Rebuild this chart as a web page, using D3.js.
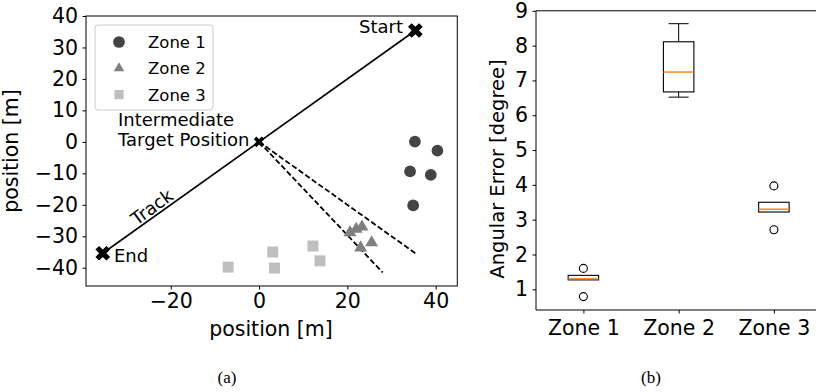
<!DOCTYPE html>
<html>
<head>
<meta charset="utf-8">
<script src="https://cdn.jsdelivr.net/npm/d3@7"></script>
<style>
  body { margin: 0; background: #fff; }
  text { font-family: "DejaVu Sans", sans-serif; fill: #000; }
  .cap { font-family: "Liberation Serif", "DejaVu Serif", serif; }
</style>
</head>
<body>
<svg id="chart" width="816" height="392"></svg>
<script>
// panel (a): positions in metres
const trackStart = [35.4, 35.4];
const trackMid = [0, 0];
const trackEnd = [-35.4, -35.4];
const dashEnds = [[28.0, -41.5], [35.4, -35.4]];
const zone1Pts = [[35.3, 0.1], [40.4, -2.8], [34.2, -9.4], [38.9, -10.5], [34.9, -20.2]];
const zone2Pts = [[20.6, -28.5], [22.0, -27.4], [23.3, -26.7], [23.0, -33.3], [25.5, -31.7]];
const zone3Pts = [[-7.0, -39.8], [3.1, -35.0], [3.5, -40.1], [12.2, -33.1], [13.8, -37.8]];
const xTicksA = [-20, 0, 20, 40];
const yTicksA = [-40, -30, -20, -10, 0, 10, 20, 30, 40];

// panel (b): angular error box stats
const zones = ["Zone 1", "Zone 2", "Zone 3"];
const whiskLo = [1.27, 6.52, 3.22];
const q1 = [1.27, 6.67, 3.22];
const med = [1.30, 7.24, 3.30];
const q3 = [1.40, 8.11, 3.50];
const whiskHi = [1.40, 8.63, 3.50];
const fliers = [[1.60, 0.79], [], [3.97, 2.71]];
const yTicksB = [1, 2, 3, 4, 5, 6, 7, 8, 9];

const svg = d3.select("#chart");
const tickFont = "20.5px";

// ---------- panel (a) ----------
const x = d3.scaleLinear().domain([-39.2, 44.9]).range([86, 457.3]);
const y = d3.scaleLinear().domain([-45.8, 40]).range([286, 16]);

const gA = svg.append("g");

gA.append("g")
  .attr("transform", "translate(0,286)")
  .call(d3.axisBottom(x).tickValues(xTicksA).tickSize(3.5).tickPadding(3.5).tickFormat(d3.format("d")))
  .call(g => g.select(".domain").remove())
  .call(g => g.selectAll("text").style("font-size", tickFont).attr("dy", "0.72em"));

gA.append("g")
  .attr("transform", "translate(86,0)")
  .call(d3.axisLeft(y).tickValues(yTicksA).tickSize(3.5).tickPadding(4.5).tickFormat(d3.format("d")))
  .call(g => g.select(".domain").remove())
  .call(g => g.selectAll("text").style("font-size", tickFont));

gA.selectAll(".tick line").attr("stroke", "#000").attr("stroke-width", 1);

gA.append("rect")
  .attr("x", 86).attr("y", 16).attr("width", 457.3 - 86).attr("height", 286 - 16)
  .attr("fill", "none").attr("stroke", "#000").attr("stroke-width", 1);

// track
gA.append("line")
  .attr("x1", x(trackEnd[0])).attr("y1", y(trackEnd[1]))
  .attr("x2", x(trackStart[0])).attr("y2", y(trackStart[1]))
  .attr("stroke", "#000").attr("stroke-width", 1.6);

dashEnds.forEach(p => {
  gA.append("line")
    .attr("x1", x(trackMid[0])).attr("y1", y(trackMid[1]))
    .attr("x2", x(p[0])).attr("y2", y(p[1]))
    .attr("stroke", "#000").attr("stroke-width", 1.8)
    .attr("stroke-dasharray", "5.5,2.6");
});

const xMark = d3.symbol().type(d3.symbolCross).size(135);
[trackStart, trackEnd].forEach(p => {
  gA.append("path").attr("d", xMark)
    .attr("transform", `translate(${x(p[0])},${y(p[1])}) rotate(45)`)
    .attr("fill", "#000");
});
gA.append("path").attr("d", d3.symbol().type(d3.symbolCross).size(70))
  .attr("transform", `translate(${x(trackMid[0])},${y(trackMid[1])}) rotate(45)`)
  .attr("fill", "#000");

const circ = d3.symbol().type(d3.symbolCircle).size(108);
const tri = d3.symbol().type(d3.symbolTriangle).size(72);
const sq = d3.symbol().type(d3.symbolSquare).size(120);

gA.selectAll(".z1").data(zone1Pts).join("path")
  .attr("d", circ).attr("fill", "#444444")
  .attr("transform", d => `translate(${x(d[0])},${y(d[1])})`);
gA.selectAll(".z2").data(zone2Pts).join("path")
  .attr("d", tri).attr("fill", "#7f7f7f")
  .attr("transform", d => `translate(${x(d[0])},${y(d[1]) + 1})`);
gA.selectAll(".z3").data(zone3Pts).join("path")
  .attr("d", sq).attr("fill", "#bfbfbf")
  .attr("transform", d => `translate(${x(d[0])},${y(d[1])})`);

// annotations
gA.append("text").attr("x", 403).attr("y", 33).attr("text-anchor", "end")
  .style("font-size", "18px").text("Start");
gA.append("text").attr("x", 114).attr("y", 262)
  .style("font-size", "18px").text("End");
gA.append("text").attr("x", 118).attr("y", 126)
  .style("font-size", "18px").text("Intermediate");
gA.append("text").attr("x", 118).attr("y", 146)
  .style("font-size", "18px").text("Target Position");
gA.append("text")
  .attr("transform", "translate(152,207) rotate(-36)")
  .attr("text-anchor", "middle").attr("dy", "0.35em")
  .style("font-size", "18px").text("Track");

// legend
const leg = gA.append("g");
leg.append("rect").attr("x", 95).attr("y", 25).attr("width", 118).attr("height", 85)
  .attr("rx", 3).attr("fill", "#fff").attr("fill-opacity", 0.8)
  .attr("stroke", "#cccccc").attr("stroke-width", 1);
const legItems = [
  { name: "Zone 1", sym: circ, col: "#444444" },
  { name: "Zone 2", sym: d3.symbol().type(d3.symbolTriangle).size(48), col: "#7f7f7f" },
  { name: "Zone 3", sym: d3.symbol().type(d3.symbolSquare).size(85), col: "#bfbfbf" }
];
legItems.forEach((it, i) => {
  const cy = 42 + i * 26.3;
  leg.append("path").attr("d", it.sym).attr("fill", it.col)
    .attr("transform", `translate(119,${cy})`);
  leg.append("text").attr("x", 148).attr("y", cy).attr("dy", "0.36em")
    .style("font-size", "16.5px").text(it.name);
});

// axis labels (a)
gA.append("text").attr("x", 271).attr("y", 336).attr("text-anchor", "middle")
  .style("font-size", tickFont).text("position [m]");
gA.append("text").attr("transform", "translate(18,151) rotate(-90)")
  .attr("text-anchor", "middle")
  .style("font-size", tickFont).text("position [m]");

// ---------- panel (b) ----------
const xb = d3.scalePoint().domain(zones).range([583.4, 773.9]);
const unitB = (773.9 - 583.4) / 2;
const yb = d3.scaleLinear().domain([0.405, 9.0]).range([310, 10.8]);
const boxW = 0.32 * unitB;
const capW = 0.21 * unitB;

const gB = svg.append("g");

gB.append("g")
  .attr("transform", "translate(0,310)")
  .call(d3.axisBottom(xb).tickSize(3.5).tickPadding(3.5))
  .call(g => g.select(".domain").remove())
  .call(g => g.selectAll("text").style("font-size", tickFont).attr("dy", "0.9em"));

gB.append("g")
  .attr("transform", "translate(536,0)")
  .call(d3.axisLeft(yb).tickValues(yTicksB).tickSize(3.5).tickPadding(4.5).tickFormat(d3.format("d")))
  .call(g => g.select(".domain").remove())
  .call(g => g.selectAll("text").style("font-size", tickFont));

gB.selectAll(".tick line").attr("stroke", "#000").attr("stroke-width", 1);

// spines: left, bottom, top (right one is off the page)
gB.append("path")
  .attr("d", `M816,10.8H536V310H816`)
  .attr("fill", "none").attr("stroke", "#000").attr("stroke-width", 1);

zones.forEach((z, i) => {
  const cx = xb(z);
  const g = gB.append("g");
  g.append("line").attr("x1", cx).attr("x2", cx)
    .attr("y1", yb(q3[i])).attr("y2", yb(whiskHi[i])).attr("stroke", "#000");
  g.append("line").attr("x1", cx).attr("x2", cx)
    .attr("y1", yb(q1[i])).attr("y2", yb(whiskLo[i])).attr("stroke", "#000");
  if (whiskHi[i] > q3[i]) {
    g.append("line").attr("x1", cx - capW / 2).attr("x2", cx + capW / 2)
      .attr("y1", yb(whiskHi[i])).attr("y2", yb(whiskHi[i])).attr("stroke", "#000");
  }
  if (whiskLo[i] < q1[i]) {
    g.append("line").attr("x1", cx - capW / 2).attr("x2", cx + capW / 2)
      .attr("y1", yb(whiskLo[i])).attr("y2", yb(whiskLo[i])).attr("stroke", "#000");
  }
  g.append("rect")
    .attr("x", cx - boxW / 2).attr("width", boxW)
    .attr("y", yb(q3[i])).attr("height", yb(q1[i]) - yb(q3[i]))
    .attr("fill", "none").attr("stroke", "#000").attr("stroke-width", 1.1);
  g.append("line").attr("x1", cx - boxW / 2).attr("x2", cx + boxW / 2)
    .attr("y1", yb(med[i])).attr("y2", yb(med[i]))
    .attr("stroke", "#ff7f0e").attr("stroke-width", 1.4);
  fliers[i].forEach(v => {
    g.append("circle").attr("cx", cx).attr("cy", yb(v)).attr("r", 4)
      .attr("fill", "none").attr("stroke", "#000").attr("stroke-width", 1.1);
  });
});

gB.append("text").attr("transform", "translate(497,169) rotate(-90)")
  .attr("text-anchor", "middle").attr("dy", "0.35em")
  .style("font-size", "19.5px").text("Angular Error [degree]");

// captions
svg.append("text").attr("class", "cap").attr("x", 227).attr("y", 383)
  .attr("text-anchor", "middle").style("font-size", "17px").text("(a)");
svg.append("text").attr("class", "cap").attr("x", 651).attr("y", 383)
  .attr("text-anchor", "middle").style("font-size", "17px").text("(b)");
</script>
</body>
</html>
